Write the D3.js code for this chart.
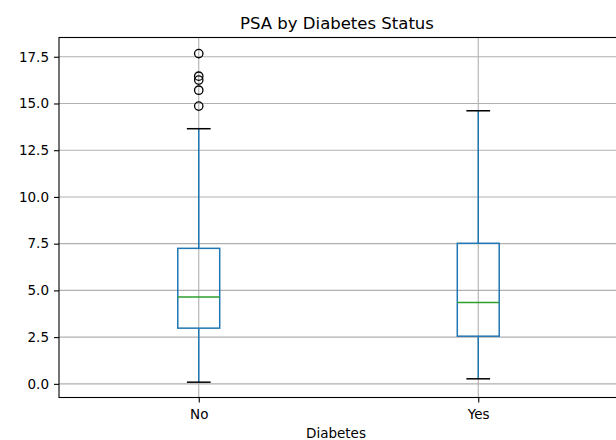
<!DOCTYPE html>
<html><head><meta charset="utf-8">
<script src="https://cdn.jsdelivr.net/npm/d3@7"></script>
<style>body{margin:0;background:#fff}svg{display:block}text{font-family:"DejaVu Sans",sans-serif;fill:#000}</style>
</head><body><svg id="c" width="616" height="440"></svg>
<script>
const categories = ["No", "Yes"];
const whiskerLow = [0.09, 0.27];
const q1 = [2.98, 2.55];
const median = [4.65, 4.35];
const q3 = [7.25, 7.52];
const whiskerHigh = [13.65, 14.61];
const outliersNo = [17.67, 16.46, 16.25, 15.71, 14.86];
const outliersYes = [];
const yTicks = [0, 2.5, 5, 7.5, 10, 12.5, 15, 17.5];

const svg = d3.select("#c");
const L = 59, R = 618, T = 37.5, B = 397.5;
const x = d3.scaleLinear().domain([0.5, 2.5]).range([L, R]);
const y = d3.scaleLinear().domain([-0.73, 18.53]).range([B, T]);
const outliers = [outliersNo, outliersYes];

const g = svg.append("g");
g.selectAll(".hg").data(yTicks).join("line")
  .attr("x1", L).attr("x2", R).attr("y1", d => y(d)).attr("y2", d => y(d))
  .attr("stroke", "#b0b0b0").attr("stroke-width", 1.1);
g.selectAll(".vg").data(categories).join("line")
  .attr("x1", (d, i) => x(i + 1)).attr("x2", (d, i) => x(i + 1)).attr("y1", T).attr("y2", B)
  .attr("stroke", "#b0b0b0").attr("stroke-width", 1.1);

const bw = 0.15, cw = 0.075;
categories.forEach((c, i) => {
  const p = i + 1;
  const bg = svg.append("g");
  bg.append("line").attr("x1", x(p)).attr("x2", x(p)).attr("y1", y(q3[i])).attr("y2", y(whiskerHigh[i]))
    .attr("stroke", "#1f77b4").attr("stroke-width", 1.5);
  bg.append("line").attr("x1", x(p)).attr("x2", x(p)).attr("y1", y(q1[i])).attr("y2", y(whiskerLow[i]))
    .attr("stroke", "#1f77b4").attr("stroke-width", 1.5);
  [whiskerLow[i], whiskerHigh[i]].forEach(v => {
    bg.append("line").attr("x1", x(p - cw / 2 - 0.005)).attr("x2", x(p + cw / 2 + 0.005)).attr("y1", y(v)).attr("y2", y(v))
      .attr("stroke", "#000").attr("stroke-width", 1.5);
  });
  bg.append("rect").attr("x", x(p - bw / 2)).attr("width", x(p + bw / 2) - x(p - bw / 2))
    .attr("y", y(q3[i])).attr("height", y(q1[i]) - y(q3[i]))
    .attr("fill", "none").attr("stroke", "#1f77b4").attr("stroke-width", 1.5);
  bg.append("line").attr("x1", x(p - bw / 2)).attr("x2", x(p + bw / 2)).attr("y1", y(median[i])).attr("y2", y(median[i]))
    .attr("stroke", "#2ca02c").attr("stroke-width", 1.5);
  bg.selectAll("circle").data(outliers[i]).join("circle")
    .attr("cx", x(p)).attr("cy", d => y(d)).attr("r", 4.2)
    .attr("fill", "none").attr("stroke", "#000").attr("stroke-width", 1.3);
});

const yAxis = d3.axisLeft(y).tickValues(yTicks).tickFormat(d3.format(".1f")).tickSize(5).tickPadding(5);
const ya = svg.append("g").attr("transform", `translate(${L},0)`).call(yAxis);
const xAxis = d3.axisBottom(x).tickValues([1, 2]).tickFormat((d) => categories[d - 1]).tickSize(5).tickPadding(7);
const xa = svg.append("g").attr("transform", `translate(0,${B})`).call(xAxis);
[ya, xa].forEach(a => {
  a.select(".domain").remove();
  a.selectAll("line").attr("stroke", "#000").attr("stroke-width", 1.1);
  a.selectAll("text").attr("font-size", "13.5px").attr("font-family", "DejaVu Sans");
});
svg.append("rect").attr("x", L).attr("y", T).attr("width", R - L).attr("height", B - T)
  .attr("fill", "none").attr("stroke", "#000").attr("stroke-width", 1.1);

svg.append("text").attr("x", 337).attr("y", 29).attr("text-anchor", "middle")
  .attr("font-size", "16.5px").text("PSA by Diabetes Status");
svg.append("text").attr("x", 336).attr("y", 438).attr("text-anchor", "middle")
  .attr("font-size", "13.5px").text("Diabetes");
</script></body></html>
